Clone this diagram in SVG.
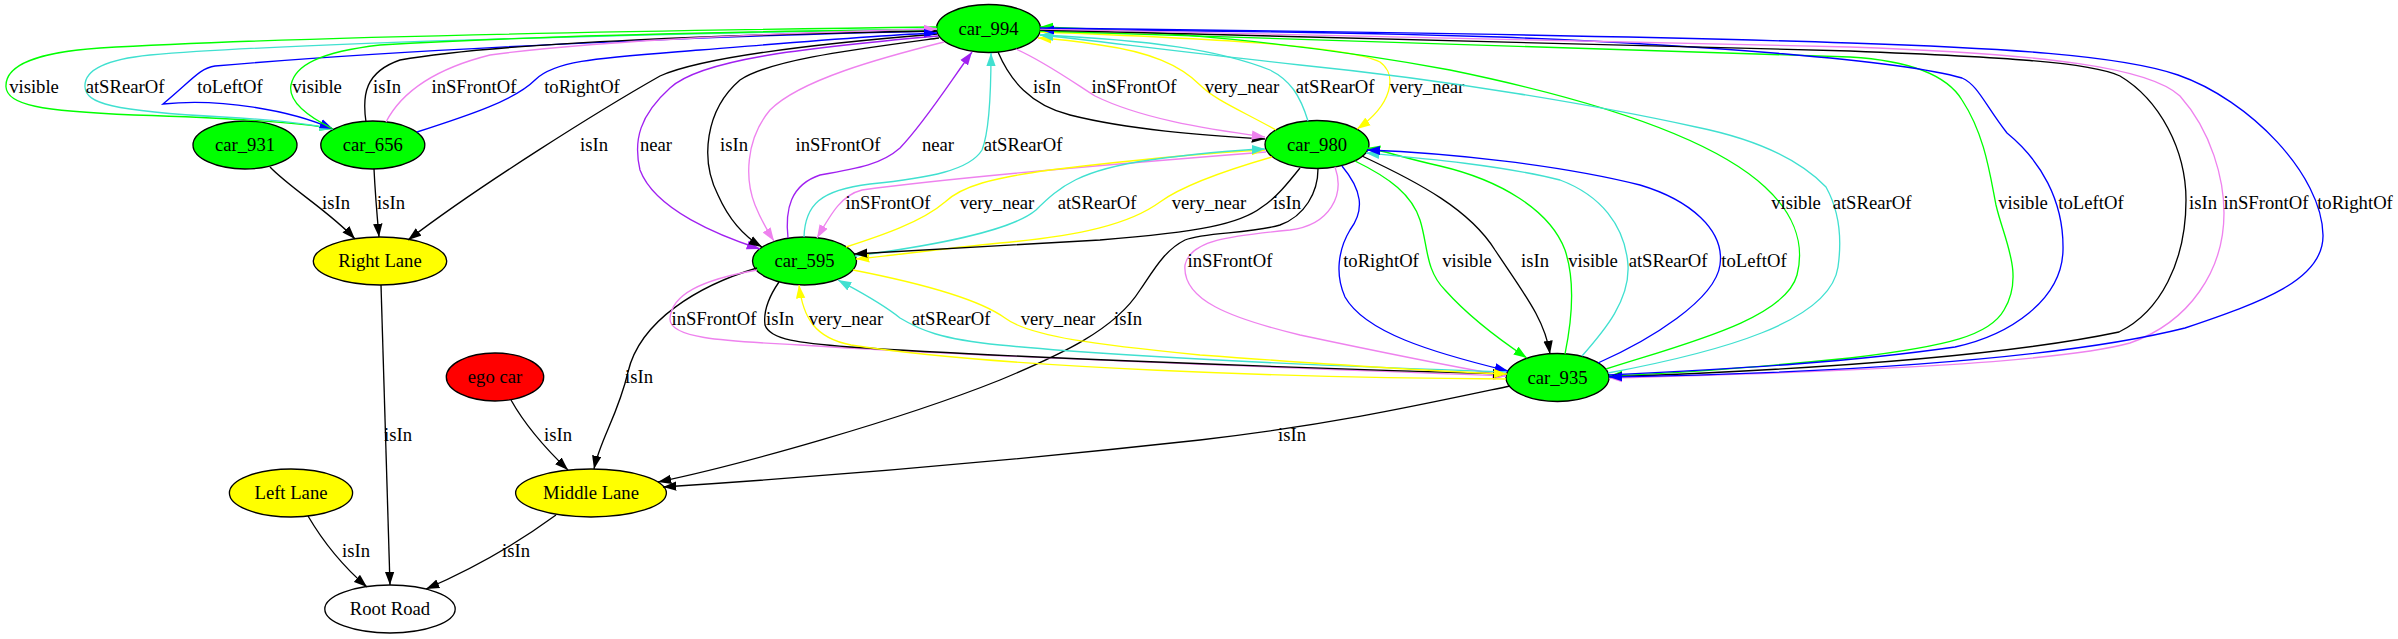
<svg xmlns="http://www.w3.org/2000/svg" width="2398" height="639" viewBox="0 0 2398 639">
<style>
.n ellipse{stroke:#000;stroke-width:1.33}
text{font-family:"Liberation Serif","Times New Roman",serif;font-size:18.67px;text-anchor:middle;fill:#000}
.e path{fill:none;stroke-width:1.33}
.k{stroke:#000;marker-end:url(#ak)}
.g{stroke:#00ff00;marker-end:url(#ag)}
.t{stroke:#40e0d0;marker-end:url(#at)}
.b{stroke:#0000ff;marker-end:url(#ab)}
.v{stroke:#ee82ee;marker-end:url(#av)}
.y{stroke:#ffff00;marker-end:url(#ay)}
.p{stroke:#a020f0;marker-end:url(#ap)}
</style>
<defs>
<marker id="ak" viewBox="0 0 14 10" refX="13.3" refY="5" markerWidth="14" markerHeight="10" markerUnits="userSpaceOnUse" orient="auto"><path d="M0,0.3 L13.3,5 L0,9.7 z" fill="#000"/></marker>
<marker id="ag" viewBox="0 0 14 10" refX="13.3" refY="5" markerWidth="14" markerHeight="10" markerUnits="userSpaceOnUse" orient="auto"><path d="M0,0.3 L13.3,5 L0,9.7 z" fill="#00ff00"/></marker>
<marker id="at" viewBox="0 0 14 10" refX="13.3" refY="5" markerWidth="14" markerHeight="10" markerUnits="userSpaceOnUse" orient="auto"><path d="M0,0.3 L13.3,5 L0,9.7 z" fill="#40e0d0"/></marker>
<marker id="ab" viewBox="0 0 14 10" refX="13.3" refY="5" markerWidth="14" markerHeight="10" markerUnits="userSpaceOnUse" orient="auto"><path d="M0,0.3 L13.3,5 L0,9.7 z" fill="#0000ff"/></marker>
<marker id="av" viewBox="0 0 14 10" refX="13.3" refY="5" markerWidth="14" markerHeight="10" markerUnits="userSpaceOnUse" orient="auto"><path d="M0,0.3 L13.3,5 L0,9.7 z" fill="#ee82ee"/></marker>
<marker id="ay" viewBox="0 0 14 10" refX="13.3" refY="5" markerWidth="14" markerHeight="10" markerUnits="userSpaceOnUse" orient="auto"><path d="M0,0.3 L13.3,5 L0,9.7 z" fill="#ffff00"/></marker>
<marker id="ap" viewBox="0 0 14 10" refX="13.3" refY="5" markerWidth="14" markerHeight="10" markerUnits="userSpaceOnUse" orient="auto"><path d="M0,0.3 L13.3,5 L0,9.7 z" fill="#a020f0"/></marker>
</defs>
<rect width="2398" height="639" fill="#fff"/>
<g id="nodes">
<g id="car_994" class="n"><ellipse cx="988.5" cy="28.5" rx="52" ry="24" fill="#00ff00"/><text x="988.5" y="34.5">car_994</text></g>
<g id="car_980" class="n"><ellipse cx="1317" cy="144.5" rx="52" ry="24" fill="#00ff00"/><text x="1317" y="150.5">car_980</text></g>
<g id="car_656" class="n"><ellipse cx="372.8" cy="145" rx="52" ry="24" fill="#00ff00"/><text x="372.8" y="151">car_656</text></g>
<g id="car_931" class="n"><ellipse cx="245" cy="145" rx="52" ry="24" fill="#00ff00"/><text x="245" y="151">car_931</text></g>
<g id="car_595" class="n"><ellipse cx="804.5" cy="261" rx="52" ry="24" fill="#00ff00"/><text x="804.5" y="267">car_595</text></g>
<g id="right_lane" class="n"><ellipse cx="380" cy="261" rx="66.7" ry="24" fill="#ffff00"/><text x="380" y="267">Right Lane</text></g>
<g id="car_935" class="n"><ellipse cx="1557.5" cy="377.5" rx="51.5" ry="24" fill="#00ff00"/><text x="1557.5" y="383.5">car_935</text></g>
<g id="ego_car" class="n"><ellipse cx="495" cy="377" rx="48.7" ry="24" fill="#ff0000"/><text x="495" y="383">ego car</text></g>
<g id="middle_lane" class="n"><ellipse cx="591" cy="493" rx="75.4" ry="24" fill="#ffff00"/><text x="591" y="499">Middle Lane</text></g>
<g id="left_lane" class="n"><ellipse cx="291" cy="493" rx="61.6" ry="24" fill="#ffff00"/><text x="291" y="499">Left Lane</text></g>
<g id="root_road" class="n"><ellipse cx="390" cy="609" rx="65.2" ry="24" fill="#ffffff"/><text x="390" y="615">Root Road</text></g>
</g>
<g id="edges" class="e">
<path class="k" d="M270,167 C290,188 330,212 355,239"/><text x="336" y="208.5">isIn</text>
<path class="k" d="M374,169 C375,190 377,215 379,237"/><text x="391" y="208.5">isIn</text>
<path class="k" d="M937,34 C800,45 700,58 660,76 C600,110 480,185 408,240"/><text x="594" y="150.5">isIn</text>
<path class="k" d="M381,285 C383,380 387,480 390,585"/><text x="398" y="440.5">isIn</text>
<path class="k" d="M511,400 C525,425 545,448 568,470"/><text x="558" y="440.5">isIn</text>
<path class="k" d="M308,516 C325,545 345,568 367,587"/><text x="356" y="556.5">isIn</text>
<path class="k" d="M556,515 C515,545 470,570 426,589"/><text x="516" y="556.5">isIn</text>
<path class="k" d="M757,268 C700,285 640,320 628,372 C618,415 600,440 594,469"/><text x="639" y="382.5">isIn</text>
<path class="k" d="M1510,386 C1420,405 1330,425 1200,440 C1000,462 800,478 663,487"/><text x="1292" y="440.5">isIn</text>
<path class="k" d="M1318,169 C1318,192 1305,216 1280,225 C1250,234 1205,232 1185,240 C1165,250 1155,268 1140,290 C1115,330 1060,355 1000,380 C900,420 740,465 658,482"/><text x="1128" y="324.5">isIn</text>

<path class="g" d="M937,27 C700,30 300,36 100,48 C25,53 5,70 6,87 C7,105 40,111 134,115 C230,118 300,122 333,129"/><text x="34" y="92.5">visible</text>
<path class="t" d="M937,29 C700,33 300,42 150,55 C100,60 84,72 85,87 C86,103 110,111 223,117 C280,120 310,124 333,129"/><text x="125" y="92.5">atSRearOf</text>
<path class="b" d="M937,31 C700,36 400,50 215,66 C200,68 192,80 163,104 C220,98 290,110 333,129"/><text x="230" y="92.5">toLeftOf</text>
<path class="g" d="M333,129 C305,115 288,100 291,85 C295,65 320,52 380,45 C550,35 800,30 937,30"/><text x="317" y="92.5">visible</text>
<path class="k" d="M366,122 C362,95 365,72 400,60 C500,42 750,34 937,31"/><text x="387" y="92.5">isIn</text>
<path class="v" d="M386,122 C400,95 430,70 490,55 C600,40 800,32 937,29"/><text x="474" y="92.5">inSFrontOf</text>
<path class="b" d="M417,132 C470,115 515,100 535,80 C555,60 600,58 700,50 C800,42 880,35 937,33"/><text x="582" y="92.5">toRightOf</text>

<path class="k" d="M998,52 C1010,80 1030,105 1070,115 C1130,130 1200,135 1265,139"/><text x="1047" y="92.5">isIn</text>
<path class="v" d="M1016,49 C1045,62 1070,80 1095,96 C1140,118 1200,128 1265,137"/><text x="1134" y="92.5">inSFrontOf</text>
<path class="y" d="M1276,130 C1240,110 1215,100 1200,85 C1180,65 1150,52 1100,45 C1075,41 1055,39 1038,38"/><text x="1242" y="92.5">very_near</text>
<path class="t" d="M1308,121 C1300,95 1290,80 1270,70 C1220,50 1150,40 1040,35"/><text x="1335" y="92.5">atSRearOf</text>
<path class="y" d="M1040,32 C1200,38 1345,45 1380,62 C1398,75 1392,105 1357,129"/><text x="1427" y="92.5">very_near</text>

<path class="p" d="M938,36 C800,48 700,60 670,88 C640,115 633,140 640,170 C655,210 720,236 760,249"/><text x="656" y="150.5">near</text>
<path class="k" d="M939,38 C850,50 770,60 740,80 C705,110 700,160 718,195 C730,222 745,237 762,247"/><text x="734" y="150.5">isIn</text>
<path class="v" d="M944,42 C880,58 800,80 770,110 C745,140 745,180 755,205 C762,222 768,232 774,241"/><text x="838" y="150.5">inSFrontOf</text>
<path class="p" d="M788,238 C785,210 790,185 820,175 C860,168 882,164 900,148 C925,122 950,82 972,52"/><text x="938" y="150.5">near</text>
<path class="t" d="M804,237 C805,205 820,190 870,184 C930,178 970,170 982,150 C990,130 991,90 991,53"/><text x="1023" y="150.5">atSRearOf</text>

<path class="g" d="M1606,369 C1680,345 1785,320 1797,275 C1806,240 1790,210 1765,187 C1720,145 1620,105 1450,70 C1300,42 1150,30 1040,27"/><text x="1796" y="208.5">visible</text>
<path class="t" d="M1608,373 C1720,352 1830,322 1838,267 C1843,232 1836,205 1826,187 C1800,160 1760,140 1696,127 C1600,106 1450,80 1300,65 C1180,52 1090,40 1040,35"/><text x="1872" y="208.5">atSRearOf</text>
<path class="g" d="M1040,31 C1400,40 1700,50 1850,57 C1900,60 1945,72 1962,100 C1985,135 1990,175 1996,205 C2004,240 2025,275 2004,310 C1990,335 1950,346 1850,358 C1750,368 1680,373 1609,376"/><text x="2023" y="208.5">visible</text>
<path class="b" d="M1609,375 C1750,368 1850,362 1955,347 C2010,335 2062,300 2063,250 C2064,200 2040,160 2007,133 C1985,105 1978,85 1962,78 C1900,60 1700,45 1500,37 C1300,31 1150,30 1041,30"/><text x="2091" y="208.5">toLeftOf</text>
<path class="k" d="M1040,30 C1400,37 1700,45 1850,51 C2000,57 2090,62 2120,76 C2160,100 2186,150 2186,200 C2186,262 2160,312 2119,332 C2000,357 1800,370 1609,377"/><text x="2203" y="208.5">isIn</text>
<path class="v" d="M1040,29 C1400,35 1700,42 1850,47 C2050,54 2150,68 2180,96 C2212,132 2224,180 2224,213 C2224,270 2190,322 2130,343 C2050,365 1800,373 1609,378"/><text x="2266" y="208.5">inSFrontOf</text>
<path class="b" d="M1040,28 C1400,32 1700,38 1850,43 C2000,48 2120,55 2178,75 C2250,100 2322,175 2323,235 C2324,280 2262,302 2185,328 C2050,362 1800,374 1609,377"/><text x="2355" y="208.5">toRightOf</text>

<path class="v" d="M1266,152 C1100,165 950,178 862,190 C842,195 832,212 817,238"/><text x="888" y="208.5">inSFrontOf</text>
<path class="y" d="M846,247 C880,236 922,222 945,202 C962,186 992,178 1050,170 C1150,158 1220,152 1265,150"/><text x="997" y="208.5">very_near</text>
<path class="t" d="M855,256 C930,246 1010,232 1036,210 C1060,186 1080,170 1150,160 C1200,153 1240,150 1265,149"/><text x="1097" y="208.5">atSRearOf</text>
<path class="y" d="M1272,157 C1220,172 1182,186 1160,202 C1130,224 1080,236 1000,243 C930,250 890,256 856,259"/><text x="1209" y="208.5">very_near</text>
<path class="k" d="M1300,168 C1288,183 1276,198 1262,207 C1240,224 1200,232 1100,240 C1000,246 900,251 854,254"/><text x="1287" y="208.5">isIn</text>

<path class="v" d="M1335,167 C1345,195 1330,225 1290,230 C1230,236 1190,240 1185,265 C1182,300 1230,318 1300,335 C1380,352 1450,366 1506,376"/><text x="1230" y="267">inSFrontOf</text>
<path class="b" d="M1342,166 C1362,190 1365,210 1350,230 C1338,250 1335,275 1345,297 C1365,332 1430,352 1508,371"/><text x="1381" y="267">toRightOf</text>
<path class="g" d="M1355,161 C1390,178 1412,195 1420,220 C1428,245 1425,270 1445,290 C1470,318 1500,340 1527,358"/><text x="1467" y="267">visible</text>
<path class="k" d="M1362,156 C1420,183 1470,210 1495,250 C1525,295 1545,320 1550,354"/><text x="1535" y="267">isIn</text>
<path class="g" d="M1565,354 C1572,320 1575,280 1565,250 C1550,210 1500,180 1440,166 C1400,157 1385,151 1367,148"/><text x="1593" y="267">visible</text>
<path class="t" d="M1582,356 C1605,330 1630,300 1628,265 C1625,225 1600,195 1560,180 C1500,165 1420,158 1366,153"/><text x="1668" y="267">atSRearOf</text>
<path class="b" d="M1598,363 C1650,340 1715,300 1720,265 C1725,230 1690,200 1640,185 C1560,165 1450,153 1367,150"/><text x="1754" y="267">toLeftOf</text>

<path class="v" d="M757,270 C700,280 672,295 670,318 C668,338 720,341 800,345 C1000,358 1300,368 1506,376"/><text x="714" y="325">inSFrontOf</text>
<path class="k" d="M779,282 C770,295 763,310 765,325 C770,340 800,343 850,347 C1000,357 1300,368 1506,374"/><text x="780" y="325">isIn</text>
<path class="y" d="M1506,379 C1300,378 1000,368 851,345 C815,338 803,318 799,285"/><text x="846" y="325">very_near</text>
<path class="t" d="M1506,372 C1300,365 1100,355 1000,345 C940,339 920,330 900,318 C880,302 860,292 838,280"/><text x="951" y="325">atSRearOf</text>
<path class="y" d="M853,270 C930,285 980,300 1005,318 C1030,337 1100,345 1200,355 C1350,366 1450,372 1507,374"/><text x="1058" y="325">very_near</text>
</g>
</svg>
